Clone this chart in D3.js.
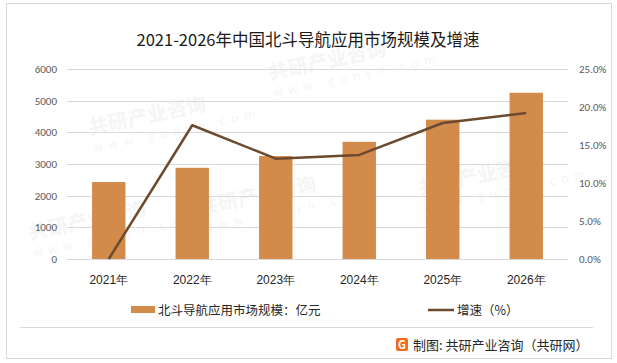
<!DOCTYPE html>
<html>
<head>
<meta charset="utf-8">
<script src="https://cdn.jsdelivr.net/npm/d3@7"></script>
<style>
  body { margin: 0; background: #fff; }
  svg { display: block; font-family: "Microsoft YaHei", "Noto Sans CJK SC", sans-serif; }
</style>
</head>
<body>
<svg width="617" height="363"></svg>
<script>
// Data
const years = ['2021年', '2022年', '2023年', '2024年', '2025年', '2026年'];
const marketSize = [2430, 2880, 3250, 3700, 4400, 5250];   // 亿元
const growth = [0, 17.6, 13.2, 13.7, 17.9, 19.2];          // %
const leftTicks = [0, 1000, 2000, 3000, 4000, 5000, 6000];
const rightTicks = [0, 5, 10, 15, 20, 25];

const svg = d3.select('svg');
const margin = {top: 69, left: 67, right: 49, bottom: 104};
const width = 617 - margin.left - margin.right;
const height = 363 - margin.top - margin.bottom;

// Frame
svg.append('rect')
  .attr('x', 6.5).attr('y', 3.5).attr('width', 605).attr('height', 355)
  .attr('fill', '#fff').attr('stroke', '#d9d9d9');
svg.append('line')
  .attr('x1', 20).attr('x2', 593).attr('y1', 327.5).attr('y2', 327.5)
  .attr('stroke', '#d9d9d9');

// Faint watermarks
const wm = svg.append('g').attr('fill', '#f5f5f5').attr('font-weight', 'bold');
[[90, 135], [270, 80], [200, 215], [420, 195], [30, 240]].forEach(([x, y]) => {
  const g = wm.append('g').attr('transform', `translate(${x},${y}) rotate(-12)`);
  g.append('text').attr('font-size', 20).text('共研产业咨询');
  g.append('text').attr('y', 18).attr('font-size', 12).attr('letter-spacing', 6).attr('font-weight', 'normal').text('www.gonyn.com');
});

svg.append('text')
  .attr('x', 308).attr('y', 46)
  .attr('text-anchor', 'middle')
  .attr('font-size', 16.5)
  .attr('fill', '#1a1a1a')
  .text('2021-2026年中国北斗导航应用市场规模及增速');

const g = svg.append('g').attr('transform', `translate(${margin.left},${margin.top})`);

const x = d3.scaleBand().domain(years).range([0, width]).paddingInner(0.6).paddingOuter(0.3);
const xc = d => x(d) + x.bandwidth() / 2;
const y = d3.scaleLinear().domain([0, 6000]).range([height, 0]);
const y2 = d3.scaleLinear().domain([0, 25]).range([height, 0]);

// Gridlines
g.append('g')
  .selectAll('line')
  .data(leftTicks).enter()
  .append('line')
  .attr('x1', 0).attr('x2', width)
  .attr('y1', d => Math.round(y(d)) + 0.5).attr('y2', d => Math.round(y(d)) + 0.5)
  .attr('stroke', '#d9d9d9');

// Left axis
const axL = g.append('g')
  .call(d3.axisLeft(y).tickValues(leftTicks).tickSize(0).tickPadding(10).tickFormat(d3.format('d')));
axL.select('.domain').remove();
axL.selectAll('text').attr('font-size', 11).attr('fill', '#595959').attr('font-family', 'Calibri, "Liberation Sans", sans-serif');

// Right axis
const axR = g.append('g')
  .attr('transform', `translate(${width},0)`)
  .call(d3.axisRight(y2).tickValues(rightTicks).tickSize(0).tickPadding(11).tickFormat(d => d.toFixed(1) + '%'));
axR.select('.domain').remove();
axR.selectAll('text').attr('font-size', 11).attr('fill', '#595959').attr('font-family', 'Calibri, "Liberation Sans", sans-serif');

// Bottom axis labels
const axB = g.append('g')
  .attr('transform', `translate(0,${height})`)
  .call(d3.axisBottom(x).tickSize(0).tickPadding(16));
axB.select('.domain').remove();
axB.selectAll('text').attr('font-size', 12).attr('fill', '#262626');

// Bars
g.append('g')
  .selectAll('rect')
  .data(marketSize).enter()
  .append('rect')
  .attr('x', (d, i) => x(years[i]))
  .attr('y', d => y(d))
  .attr('width', x.bandwidth())
  .attr('height', d => height - y(d))
  .attr('fill', '#d38b4c');

// Growth line
const line = d3.line()
  .x((d, i) => xc(years[i]))
  .y(d => y2(d));
g.append('path')
  .datum(growth)
  .attr('d', line)
  .attr('fill', 'none')
  .attr('stroke', '#6b4a2e')
  .attr('stroke-width', 2.5)
  .attr('stroke-linejoin', 'round');

// Legend
const lg = svg.append('g').attr('font-size', 12.5).attr('fill', '#262626');
lg.append('rect').attr('x', 131).attr('y', 306).attr('width', 24).attr('height', 7).attr('fill', '#d38b4c');
lg.append('text').attr('x', 158).attr('y', 314.5).text('北斗导航应用市场规模：亿元');
lg.append('line').attr('x1', 428).attr('x2', 454).attr('y1', 310).attr('y2', 310)
  .attr('stroke', '#6b4a2e').attr('stroke-width', 2.5);
lg.append('text').attr('x', 457).attr('y', 314.5).text('增速（%）');

// Footer
const ft = svg.append('g');
ft.append('rect').attr('x', 396).attr('y', 338).attr('width', 12).attr('height', 13).attr('rx', 2).attr('fill', '#f26b1d');
ft.append('text').attr('x', 402).attr('y', 349).attr('text-anchor', 'middle')
  .attr('font-size', 11).attr('font-weight', 'bold').attr('fill', '#fff').text('G');
ft.append('text').attr('x', 413).attr('y', 350)
  .attr('font-size', 13).attr('fill', '#262626')
  .text('制图: 共研产业咨询（共研网）');
</script>
</body>
</html>
